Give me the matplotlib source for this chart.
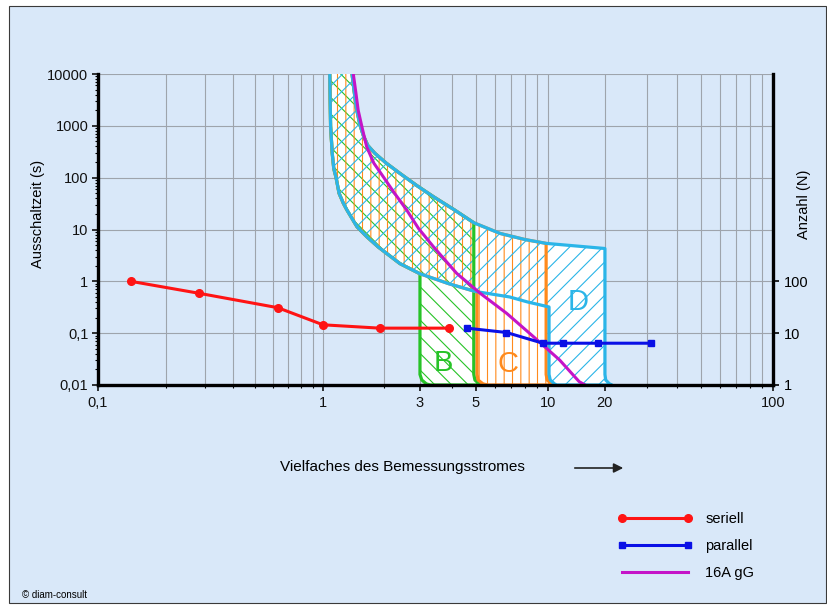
import numpy as np
import matplotlib
matplotlib.use("Agg")
import matplotlib.pyplot as plt
from matplotlib.patches import Rectangle

plt.rcParams['font.family'] = ['Liberation Sans', 'DejaVu Sans']
plt.rcParams['hatch.linewidth'] = 0.8

# x: Vielfaches des Bemessungsstromes, t: Ausschaltzeit in s
inner_x = np.array([1.08, 1.085, 1.09, 1.11, 1.13, 1.16, 1.20, 1.26, 1.31, 1.47, 1.64, 1.87,
                    2.39, 3.0, 3.9, 4.9, 5.05, 6.9, 8.2, 9.8, 10.1])
inner_t = np.array([10000, 3000, 1000, 300, 150, 100, 50, 32, 24, 11.3, 7.3, 4.6,
                    2.2, 1.4, 0.9, 0.65, 0.63, 0.5, 0.4, 0.33, 0.32])
outer_x = np.array([1.39, 1.42, 1.46, 1.52, 1.58, 1.66, 1.80, 2.05, 2.39, 2.9, 3.39, 4.1,
                    4.9, 6.3, 8.0, 9.8, 20])
outer_t = np.array([10000, 5000, 2200, 1040, 650, 420, 295, 190, 121, 70, 43, 24,
                    13.5, 8.4, 6.4, 5.4, 4.3])

# rounded foot of each vertical edge
corner_t = np.array([0.016, 0.0125, 0.0105, 0.01])
b_left = np.array([3.0, 3.05, 3.18, 3.3])
b_right = np.array([4.9, 4.95, 5.15, 5.35])
c_left = np.array([5.05, 5.1, 5.35, 5.6])
c_right = np.array([9.8, 9.9, 10.4, 10.7])
d_left = np.array([10.1, 10.25, 10.8, 11.1])
d_right = np.array([20, 20.15, 20.9, 21.4])

gg_x = [1.41, 1.45, 1.49, 1.56, 1.64, 1.78, 1.98, 2.25, 2.58, 2.95, 3.39, 4.19, 5.2, 6.72,
        8.68, 11.5, 14.6, 15.7]
gg_t = [10000, 4500, 2000, 900, 395, 190, 104, 50, 23.8, 10.5, 4.66, 1.43, 0.59, 0.24,
        0.0855, 0.0303, 0.0116, 0.01]

seriell_x = [0.14, 0.28, 0.63, 1.0, 1.9, 3.9]
seriell_t = [1.0, 0.59, 0.31, 0.145, 0.125, 0.125]
parallel_x = [4.6, 6.7, 9.5, 12, 18.4, 31]
parallel_t = [0.125, 0.103, 0.064, 0.064, 0.064, 0.064]

x_ticks = [0.1, 1, 3, 5, 10, 20, 100]
x_labels = ['0,1', '1', '3', '5', '10', '20', '100']
x_minor = [0.2, 0.3, 0.4, 0.5, 0.6, 0.7, 0.8, 0.9, 2, 4, 6, 7, 8, 9,
           30, 40, 50, 60, 70, 80, 90]
tick_frac = [0, 0.3333, 0.477, 0.560, 0.667, 0.751, 1]
y_ticks = [0.01, 0.1, 1, 10, 100, 1000, 10000]
y_labels = ['0,01', '0,1', '1', '10', '100', '1000', '10000']
n_ticks = [1, 10, 100]

bg = '#d9e8f9'
green, orange, cyan = '#27c327', '#ff8a1c', '#2bb5e8'


def fwd(x):
    x = np.clip(np.asarray(x, dtype=float), 1e-9, None)
    return np.interp(np.log10(x), np.log10(x_ticks), tick_frac)


def inv(p):
    return 10 ** np.interp(p, tick_frac, np.log10(x_ticks))


def region(left, right):
    o = outer_x <= right[0] + 1e-9
    i = inner_x <= left[0] + 1e-9
    xs = np.concatenate([outer_x[o], right, left[::-1], inner_x[i][::-1]])
    ts = np.concatenate([outer_t[o], corner_t, corner_t[::-1], inner_t[i][::-1]])
    return xs, ts


fig = plt.figure(figsize=(8.28, 6.05), dpi=100, facecolor='white')
fig.add_artist(Rectangle((9 / 828, 1 - 603 / 605), 817 / 828, 597 / 605,
                         transform=fig.transFigure, facecolor=bg,
                         edgecolor='#3a3a3a', lw=0.8, zorder=-10))

ax = fig.add_axes([98 / 828, 1 - 385 / 605, 675 / 828, 311 / 605])
ax.set_facecolor(bg)
ax.set_xscale('function', functions=(fwd, inv))
ax.set_yscale('log')
ax.set_xlim(0.1, 100)
ax.set_ylim(0.01, 10000)
ax.set_axisbelow(True)

regions = [
    ('B', b_left, b_right, green, r'\\', (3.7, 0.026)),
    ('C', c_left, c_right, orange, '||', (6.8, 0.025)),
    ('D', d_left, d_right, cyan, '//', (14.5, 0.4)),
]
shapes = [region(l, r) for _, l, r, _, _, _ in regions]

for xs, ts in shapes:
    ax.fill(xs, ts, facecolor='white', lw=0, zorder=1)
for (name, l, r, col, hatch, pos), (xs, ts) in zip(regions, shapes):
    ax.fill(xs, ts, facecolor='none', edgecolor=col, hatch=hatch, lw=0, zorder=1.1)
for (name, l, r, col, hatch, pos), (xs, ts) in zip(regions, shapes):
    ax.plot(xs, ts, color=col, lw=2.3, zorder=1.5, solid_joinstyle='round')
    ax.text(pos[0], pos[1], name, color=col, fontsize=21, ha='center', va='center', zorder=1.6)

l_gg, = ax.plot(gg_x, gg_t, color='#c414c8', lw=2.2, zorder=2)
l_ser, = ax.plot(seriell_x, seriell_t, color='#ff1414', lw=2.2, marker='o', ms=5.5, zorder=3)
l_par, = ax.plot(parallel_x, parallel_t, color='#0a10e6', lw=2.2, marker='s', ms=5, zorder=3)

ax.set_xticks(x_ticks, x_labels)
ax.set_xticks(x_minor, minor=True)
ax.set_yticks(y_ticks, y_labels)
ax.grid(True, axis='x', which='both', color='#9ea4ac', lw=0.8)
ax.grid(True, axis='y', which='major', color='#9ea4ac', lw=0.8)
ax.tick_params(axis='both', which='major', labelsize=10.5, length=4, width=1.2,
               colors='#111111', pad=3)
ax.tick_params(axis='both', which='minor', length=2.5, width=0.8)
ax.tick_params(axis='x', which='major', pad=4)

for side in ['left', 'bottom']:
    ax.spines[side].set_linewidth(2.4)
ax.spines['top'].set_visible(False)
ax.spines['right'].set_visible(False)

ax.set_ylabel('Ausschaltzeit (s)', fontsize=10.5)
ax.yaxis.set_label_coords(-0.079, 0.55)

# Anzahl N on the right: 1 at the bottom, one decade per decade of time
ax2 = ax.twinx()
ax2.set_yscale('log')
ax2.set_ylim(1, 1e6)
ax2.set_yticks(n_ticks, ['1', '10', '100'])
ax2.yaxis.set_minor_locator(matplotlib.ticker.NullLocator())
ax2.tick_params(axis='y', labelsize=10.5, length=4, width=1.2, pad=4)
for side in ['left', 'top', 'bottom']:
    ax2.spines[side].set_visible(False)
ax2.spines['right'].set_linewidth(2.4)
ax2.set_ylabel('Anzahl (N)', fontsize=10.5)
ax2.yaxis.set_label_coords(1.036, 0.58)

fig.text(402 / 828, 1 - 467 / 605, 'Vielfaches des Bemessungsstromes',
         ha='center', va='center', fontsize=11)
ax.annotate('', xy=(626 / 828, 1 - 468 / 605), xytext=(572 / 828, 1 - 468 / 605),
            xycoords='figure fraction', textcoords='figure fraction',
            annotation_clip=False,
            arrowprops=dict(arrowstyle='-|>', color='#222222', lw=1.2, mutation_scale=14))

fig.legend([l_ser, l_par, l_gg], ['seriell', 'parallel', '16A gG'],
           loc='upper left', bbox_to_anchor=(618 / 828, 1 - 512 / 605),
           frameon=False, fontsize=10.5, numpoints=2, handlelength=5.1,
           handletextpad=0.9, labelspacing=0.9, borderpad=0, borderaxespad=0)

fig.text(22 / 828, 1 - 595 / 605, '© diam-consult', fontsize=7, va='center')

fig.savefig('out.png', dpi=100, facecolor='white')
